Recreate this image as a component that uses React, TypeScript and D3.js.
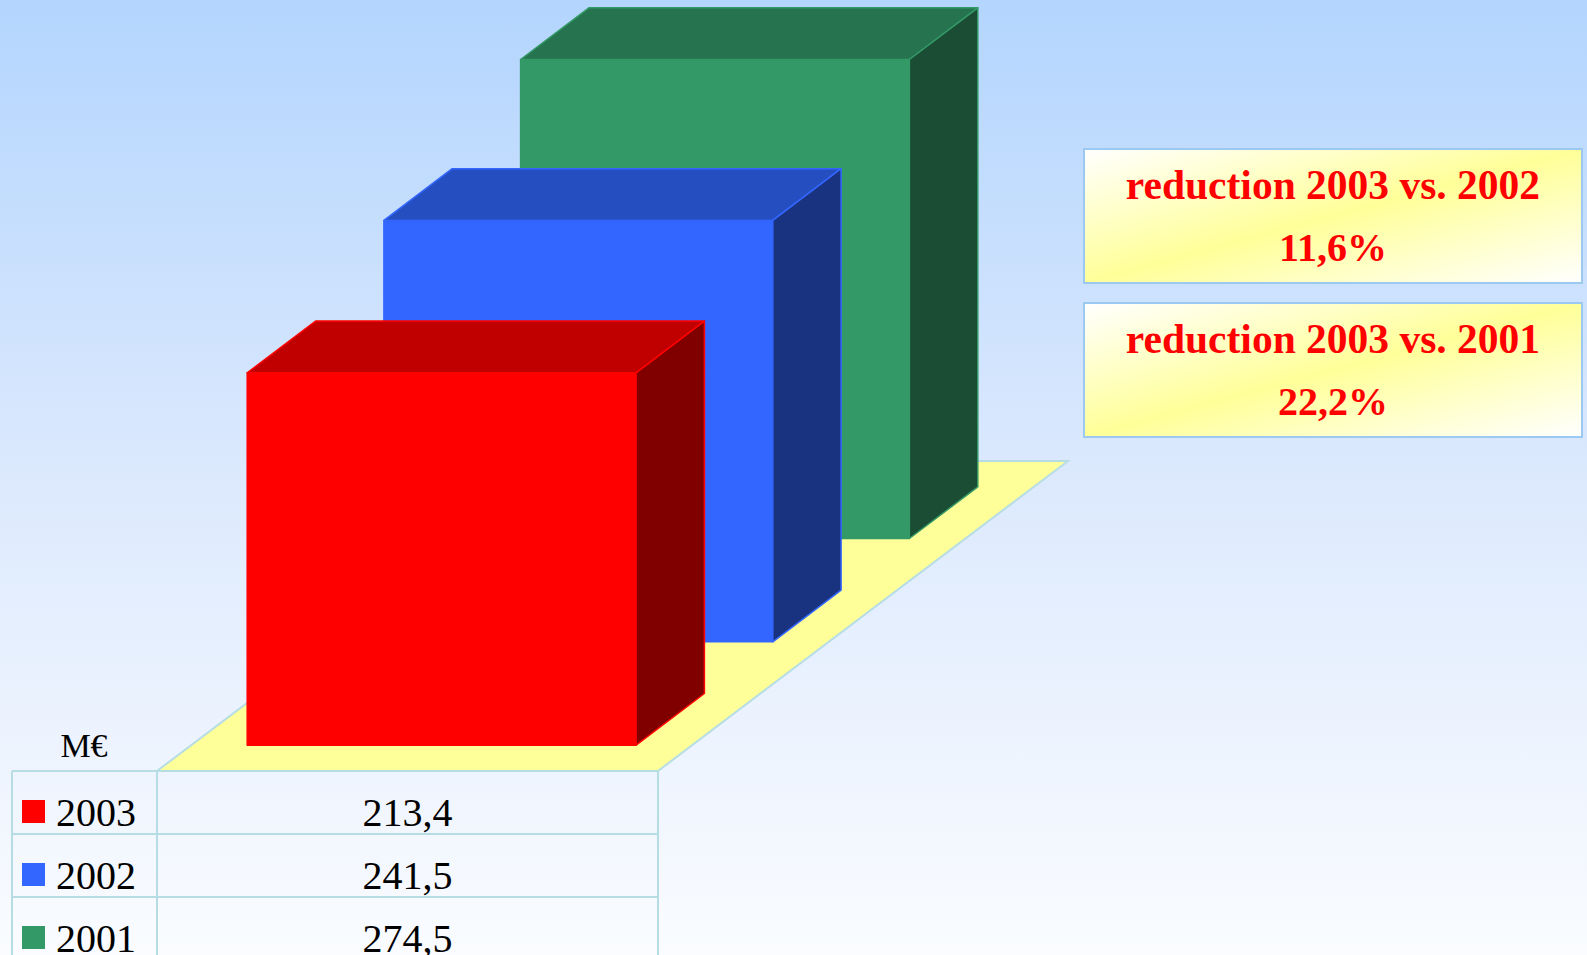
import React from "react";
import * as d3 from "d3";

// Annual totals in M€, front row first
const years = ["2003", "2002", "2001"];
const values = [213.4, 241.5, 274.5];
const unit = "M€";

// Reduction call-outs
const reductionLabels = ["reduction 2003 vs. 2002", "reduction 2003 vs. 2001"];
const reductionPct = [11.6, 22.2];

const frontColors = ["#ff0000", "#3366ff", "#339966"];
const topColors = ["#c00000", "#254fc0", "#267350"];
const sideColors = ["#800000", "#1a3380", "#1b4d34"];

const W = 1587;
const H = 955;

// Oblique 3D frame: floor front-left corner, floor width, depth vector
const X0 = 157;
const Y0 = 771;
const FLOOR_W = 501;
const DX = 410;
const DY = -310;

const P = (x: number, t: number, h: number): [number, number] => [
  X0 + x + t * DX,
  Y0 + t * DY - h,
];
const poly = (pts: [number, number][]) =>
  "M" + pts.map((p) => p[0].toFixed(1) + "," + p[1].toFixed(1)).join("L") + "Z";

const fmt = (v: number) => d3.format(".1f")(v).replace(".", ",");

export default function App() {
  const xBand = d3.scaleBand<string>().domain([unit]).range([0, FLOOR_W]).padding(0.126);
  const depth = d3
    .scaleBand<string>()
    .domain(years)
    .range([0, 1])
    .paddingInner(0.5)
    .paddingOuter(0.25);
  const yScale = d3.scaleLinear().domain([0, 300]).range([0, 523.5]);

  const bx0 = xBand(unit) as number;
  const bx1 = bx0 + xBand.bandwidth();
  const bd = depth.bandwidth();

  const bars = years
    .map((yr, i) => {
      const t0 = depth(yr) as number;
      const t1 = t0 + bd;
      const h = yScale(values[i]);
      return {
        i,
        front: poly([P(bx0, t0, 0), P(bx1, t0, 0), P(bx1, t0, h), P(bx0, t0, h)]),
        top: poly([P(bx0, t0, h), P(bx1, t0, h), P(bx1, t1, h), P(bx0, t1, h)]),
        side: poly([P(bx1, t0, 0), P(bx1, t1, 0), P(bx1, t1, h), P(bx1, t0, h)]),
      };
    })
    .reverse();

  const floor = poly([P(0, 0, 0), P(FLOOR_W, 0, 0), P(FLOOR_W, 1, 0), P(0, 1, 0)]);

  // Data table under the floor
  const tLeft = 12;
  const tMid = X0;
  const tRight = X0 + FLOOR_W;
  const rowH = 63;
  const gridColor = "#b6dde3";

  // Call-out boxes
  const boxX = 1084;
  const boxW = 498;
  const boxH = 134;
  const boxYs = [149, 303];

  return (
    <svg
      width={W}
      height={H}
      style={{ position: "fixed", left: 0, top: 0, display: "block" }}
      fontFamily="'Liberation Serif', 'Times New Roman', serif"
    >
      <defs>
        <linearGradient id="bg" x1="0" y1="0" x2="0" y2="1">
          <stop offset="0" stopColor="#b3d5fe" />
          <stop offset="0.5" stopColor="#dce9fd" />
          <stop offset="1" stopColor="#fafcff" />
        </linearGradient>
        <linearGradient id="box" x1="0" y1="0" x2="1" y2="1">
          <stop offset="0" stopColor="#ffffff" />
          <stop offset="0.5" stopColor="#ffff99" />
          <stop offset="1" stopColor="#ffffff" />
        </linearGradient>
      </defs>
      <rect x={0} y={0} width={W} height={H} fill="url(#bg)" />

      <path d={floor} fill="#ffff99" stroke={gridColor} strokeWidth={2} />

      {bars.map((b) => (
        <g key={b.i} stroke={frontColors[b.i]} strokeWidth={1.5} strokeLinejoin="round">
          <path d={b.front} fill={frontColors[b.i]} />
          <path d={b.top} fill={topColors[b.i]} />
          <path d={b.side} fill={sideColors[b.i]} />
        </g>
      ))}

      {/* table */}
      <text x={84} y={757} fontSize={34} textAnchor="middle" fill="#000">
        {unit}
      </text>
      {years.map((yr, i) => {
        const top = Y0 + i * rowH;
        return (
          <g key={yr}>
            <rect x={22} y={top + 29} width={23} height={23} fill={frontColors[i]} />
            <text x={56} y={top + 55} fontSize={40} fill="#000">
              {yr}
            </text>
            <text x={(tMid + tRight) / 2} y={top + 55} fontSize={40} textAnchor="middle" fill="#000">
              {fmt(values[i])}
            </text>
          </g>
        );
      })}
      <g stroke={gridColor} strokeWidth={2}>
        {d3.range(0, years.length + 1).map((k) => (
          <line key={k} x1={tLeft} x2={tRight} y1={Y0 + k * rowH} y2={Y0 + k * rowH} />
        ))}
        {[tLeft, tMid, tRight].map((x) => (
          <line key={x} x1={x} x2={x} y1={Y0} y2={Y0 + years.length * rowH} />
        ))}
      </g>

      {/* reduction call-outs */}
      {reductionLabels.map((lab, i) => (
        <g key={lab}>
          <rect
            x={boxX}
            y={boxYs[i]}
            width={boxW}
            height={boxH}
            fill="url(#box)"
            stroke="#9cc9f2"
            strokeWidth={2}
          />
          <text
            x={boxX + boxW / 2}
            y={boxYs[i] + 50}
            fontSize={41.5}
            fontWeight="bold"
            textAnchor="middle"
            fill="#ff0000"
          >
            {lab}
          </text>
          <text
            x={boxX + boxW / 2}
            y={boxYs[i] + 112}
            fontSize={40}
            fontWeight="bold"
            textAnchor="middle"
            fill="#ff0000"
          >
            {fmt(reductionPct[i]) + "%"}
          </text>
        </g>
      ))}
    </svg>
  );
}
